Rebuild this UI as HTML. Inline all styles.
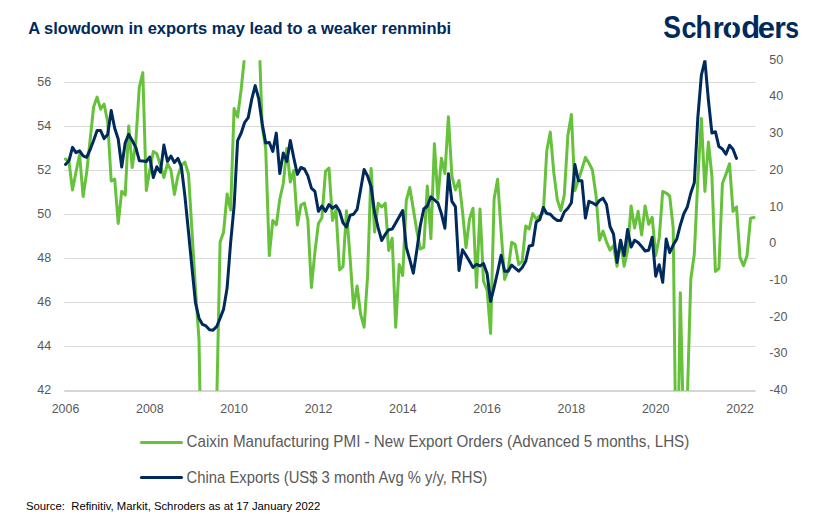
<!DOCTYPE html>
<html><head><meta charset="utf-8"><style>
html,body{margin:0;padding:0;background:#fff;}
body{width:824px;height:523px;overflow:hidden;}
svg{display:block;font-family:"Liberation Sans",sans-serif;}
</style></head><body>
<svg width="824" height="523" viewBox="0 0 824 523">
<rect width="824" height="523" fill="#fff"/>
<text x="28.2" y="33.8" font-size="16.5" font-weight="bold" fill="#002a5c" textLength="423" lengthAdjust="spacingAndGlyphs">A slowdown in exports may lead to a weaker renminbi</text>
<g font-size="29.4" font-weight="bold" fill="#002a5c"><text transform="matrix(0.903 0 0 1.081 663.34 37.5)">S</text><text transform="matrix(0.920 0 0 0.986 681.44 37.5)">c</text><text transform="matrix(0.902 0 0 1.098 695.55 37.5)">h</text><text transform="matrix(0.960 0 0 0.985 712.64 37.5)">r</text><text transform="matrix(1.034 0 0 0.986 722.61 37.5)">o</text><text transform="matrix(1.053 0 0 1.089 741.13 37.5)">d</text><text transform="matrix(1.057 0 0 0.999 757.79 37.5)">e</text><text transform="matrix(1.016 0 0 0.998 774.23 37.5)">r</text><text transform="matrix(0.843 0 0 0.998 785.13 37.5)">s</text></g>
<rect x="731.1" y="18" width="1.5" height="7.5" fill="#fff"/><rect x="731.1" y="33" width="1.5" height="6" fill="#fff"/>
<g stroke="#d9d9d9" stroke-width="1"><line x1="64.3" x2="755.5" y1="346.50" y2="346.50"/><line x1="64.3" x2="755.5" y1="302.50" y2="302.50"/><line x1="64.3" x2="755.5" y1="258.50" y2="258.50"/><line x1="64.3" x2="755.5" y1="214.50" y2="214.50"/><line x1="64.3" x2="755.5" y1="170.50" y2="170.50"/><line x1="64.3" x2="755.5" y1="126.50" y2="126.50"/><line x1="64.3" x2="755.5" y1="82.50" y2="82.50"/></g><rect x="64.3" y="390" width="691.2" height="2" fill="#d5d5d5"/>
<g font-size="12.5" fill="#595959" text-anchor="end"><text x="51.2" y="394.1">42</text><text x="51.2" y="350.0">44</text><text x="51.2" y="305.9">46</text><text x="51.2" y="261.9">48</text><text x="51.2" y="217.8">50</text><text x="51.2" y="173.7">52</text><text x="51.2" y="129.7">54</text><text x="51.2" y="85.6">56</text></g>
<g font-size="12.5" fill="#595959"><text x="769.3" y="394.0">-40</text><text x="769.3" y="357.3">-30</text><text x="769.3" y="320.6">-20</text><text x="769.3" y="283.9">-10</text><text x="769.3" y="247.2">0</text><text x="769.3" y="210.5">10</text><text x="769.3" y="173.8">20</text><text x="769.3" y="137.1">30</text><text x="769.3" y="100.4">40</text><text x="769.3" y="63.7">50</text></g>
<g font-size="12.4" fill="#595959" text-anchor="middle"><text x="65.5" y="413.2">2006</text><text x="149.8" y="413.2">2008</text><text x="234.1" y="413.2">2010</text><text x="318.5" y="413.2">2012</text><text x="402.8" y="413.2">2014</text><text x="487.1" y="413.2">2016</text><text x="571.4" y="413.2">2018</text><text x="655.7" y="413.2">2020</text><text x="740.1" y="413.2">2022</text></g>
<defs><clipPath id="pc"><rect x="60" y="60.2" width="700" height="330.6"/></clipPath></defs>
<g clip-path="url(#pc)" fill="none" stroke-width="3" stroke-linejoin="round" stroke-linecap="round">
<polyline stroke="#66c23a" points="65.5,159 69,162 72.5,190 76,172 79.6,154.5 83.1,196.5 86.6,173 90.1,140 93.6,107 97.1,97.1 100.6,109.2 104.1,104 107.7,122 111.2,181 114.7,179 118.2,223.4 121.7,191.3 125.2,195.1 128.7,126 132.2,167.6 135.8,142 139.3,87.1 142.8,72.6 146.3,190.5 149.8,170 153.3,151.5 156.8,153.8 160.4,165.3 163.9,177.5 167.4,163.8 170.9,169.9 174.4,194.4 177.9,176 181.4,165.3 184.9,162.2 188.5,174 192,231.3 195.5,290 199,339.8 202.5,538 206,560 209.5,560 213,540 216.6,409 220.1,242 223.6,232 227.1,194 230.6,210 234.1,108.5 237.6,117 241.2,89 244.7,55 248.2,40 251.7,40 255.2,40 258.7,25 262.2,127 265.7,148.4 269.3,255.6 272.8,220.4 276.3,224.9 279.8,199 283.3,183.5 286.8,148.4 290.3,182 293.8,170.5 297.4,224.9 300.9,205 304.4,203 307.9,220.3 311.4,287.5 314.9,252 318.4,223.5 321.9,217.8 325.5,171.4 329,168 332.5,220.5 336,210 339.5,270 343,266.6 346.5,210.8 350.1,258 353.6,308.1 357.1,286 360.6,314.2 364.1,327.2 367.6,276 371.1,168.4 374.6,232.1 378.2,203.2 381.7,207 385.2,203.2 388.7,250.5 392.2,238.2 395.7,327.2 399.2,264.4 402.7,275.5 406.3,200.5 409.8,187.5 413.3,209 416.8,230.6 420.3,249 423.8,247.4 427.3,186 430.9,238.6 434.4,143.7 437.9,199 441.4,158.2 444.9,173.5 448.4,116.8 451.9,176.1 455.4,190 459,180.5 462.5,211.3 466,247.5 469.5,219 473,208.2 476.5,287.5 480,209 483.5,281.2 487.1,290 490.6,333.5 494.1,199 497.6,179.2 501.1,231 504.6,279.5 508.1,270.5 511.7,242.2 515.2,244.5 518.7,264.4 522.2,261.3 525.7,226 529.2,229 532.7,213.6 536.2,219 539.8,216 543.3,212.8 546.8,150.5 550.3,132.1 553.8,172.6 557.3,199.8 560.8,210.5 564.3,195.2 567.9,135.2 571.4,114.5 574.9,190.6 578.4,180 581.9,169.2 585.4,157.4 588.9,163 592.4,170 596,195.2 599.5,240.2 603,231.1 606.5,241.8 610,250.2 613.5,245.6 617,266.2 620.6,240.2 624.1,266.2 627.6,250.2 631.1,205.9 634.6,228 638.1,211.2 641.6,234.9 645.1,205.9 648.7,224.2 652.2,217.3 655.7,255.5 659.2,238 662.7,191.4 666.2,193 669.7,196 673.2,228 676.8,530 680.3,292.8 683.8,440 687.3,400 690.8,279 694.3,254 697.8,180 701.4,118.4 704.9,191.4 708.4,142 711.9,176 715.4,271.4 718.9,268.5 722.4,183.5 725.9,174.4 729.5,163.7 733,211.4 736.5,206.8 740,257.3 743.5,265.7 747,255.8 750.5,218.3 754,217.5"/>
<polyline stroke="#002a5c" points="65.5,164.5 69,160.7 72.5,147.4 76,152.7 79.6,150.9 83.1,155.8 86.6,157.3 90.1,149.7 93.6,140.5 97.1,130.5 100.6,130.5 104.1,138.6 107.7,134.4 111.2,110.5 114.7,128.2 118.2,139 121.7,167 125.2,142.8 128.7,134.4 132.2,140.5 135.8,147.4 139.3,160.7 142.8,161 146.3,161.5 149.8,157 153.3,177.5 156.8,166.7 160.4,172.2 163.9,145.1 167.4,161.3 170.9,156 174.4,162.5 177.9,158.4 181.4,167 184.9,196 188.5,232 192,268 195.5,303 199,318.2 202.5,324.4 206,325.9 209.5,329.7 213,330.2 216.6,326.7 220.1,318.2 223.6,309.1 227.1,288 230.6,243 234.1,206 237.6,140.7 241.2,133 244.7,122.3 248.2,117.7 251.7,99.4 255.2,85.6 258.7,98.6 262.2,123.8 265.7,143 269.3,142.5 272.8,151.4 276.3,133.1 279.8,173.6 283.3,153 286.8,161.4 290.3,140.4 293.8,158 297.4,174.4 300.9,167.5 304.4,169 307.9,175.9 311.4,188.1 314.9,191.3 318.4,211.3 321.9,206 325.5,211.3 329,204.5 332.5,208.3 336,205.6 339.5,211 343,222.8 346.5,227 350.1,215.2 353.6,214.2 357.1,209.4 360.6,189.8 364.1,169.5 367.6,176 371.1,186.7 374.6,212.5 378.2,227.8 381.7,240.5 385.2,234.4 388.7,229.8 392.2,229.1 395.7,222.9 399.2,216.8 402.7,210.5 406.3,247.4 409.8,259.7 413.3,273.2 416.8,250.5 420.3,225.5 423.8,209 427.3,206 430.9,196.8 434.4,199.8 437.9,202.9 441.4,213.6 444.9,228.2 448.4,173.8 451.9,201.4 455.4,206.7 459,270.5 462.5,249.8 466,255.2 469.5,261.3 473,267.4 476.5,264.4 480,265.9 483.5,263.6 487.1,273.5 490.6,301.5 494.1,287.3 497.6,272 501.1,255.2 504.6,271.2 508.1,271.2 511.7,265.1 515.2,268.2 518.7,271.2 522.2,267.4 525.7,261.3 529.2,246 532.7,245.2 536.2,222 539.8,219.5 543.3,207.5 546.8,213.5 550.3,214.3 553.8,218.1 557.3,220.4 560.8,220.4 564.3,212 567.9,208.2 571.4,202.8 574.9,164.6 578.4,180.7 581.9,180.7 585.4,218.1 588.9,201.3 592.4,202.8 596,205.1 599.5,200.5 603,198.2 606.5,204.4 610,226.5 613.5,234 617,262.4 620.6,240.2 624.1,255.5 627.6,229.5 631.1,247.1 634.6,240.2 638.1,242.5 641.6,246.4 645.1,251 648.7,250.2 652.2,237.2 655.7,276.2 659.2,264.7 662.7,282.3 666.2,239 669.7,252.7 673.2,245.1 676.8,239 680.3,225.2 683.8,213.7 687.3,207 690.8,193 694.3,182.8 697.8,118 701.4,75 704.9,60.5 708.4,100 711.9,133 715.4,131.7 718.9,146.6 722.4,149 725.9,154.2 729.5,145.2 733,149.3 736.5,158.4"/>
</g>
<line x1="141.4" x2="181.5" y1="442.5" y2="442.5" stroke="#66c23a" stroke-width="3" stroke-linecap="round"/>
<line x1="141.4" x2="181.5" y1="477.5" y2="477.5" stroke="#002a5c" stroke-width="3" stroke-linecap="round"/>
<text x="186.6" y="446.9" font-size="15.9" fill="#595959" textLength="502.7" lengthAdjust="spacingAndGlyphs">Caixin Manufacturing PMI - New Export Orders (Advanced 5 months, LHS)</text>
<text x="186.6" y="482.8" font-size="15.9" fill="#595959" textLength="300.7" lengthAdjust="spacingAndGlyphs">China Exports (US$ 3 month Avg % y/y, RHS)</text>
<text x="26" y="510" font-size="11.4" fill="#000" textLength="294.4" lengthAdjust="spacingAndGlyphs">Source:&#160; Refinitiv, Markit, Schroders as at 17 January 2022</text>
</svg>
</body></html>
